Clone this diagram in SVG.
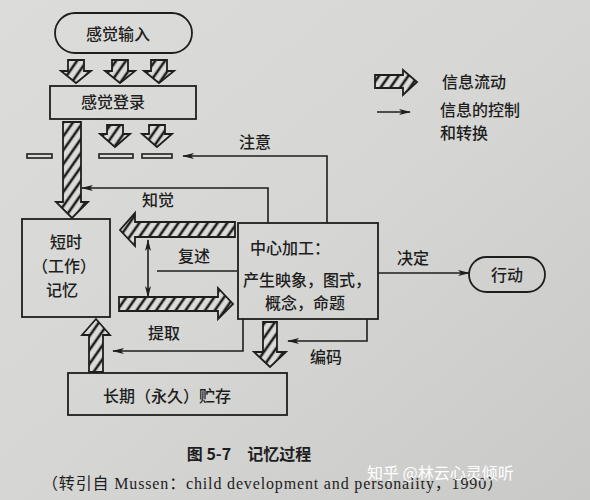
<svg xmlns="http://www.w3.org/2000/svg" width="590" height="500" viewBox="0 0 590 500">
<defs>
<pattern id="hatch" width="8" height="8" patternUnits="userSpaceOnUse" patternTransform="rotate(35)">
<rect width="8" height="8" fill="#dcdcda"/>
<line x1="2" y1="0" x2="2" y2="8" stroke="#1e1e1e" stroke-width="2.6"/>
</pattern>
<marker id="ah" viewBox="0 0 12 6" refX="11" refY="3" markerWidth="12" markerHeight="6" markerUnits="userSpaceOnUse" orient="auto-start-reverse">
<path d="M0 0 L12 3 L0 6 L3 3 Z" fill="#1e1e1e"/>
</marker>
<linearGradient id="bg" x1="0" y1="0" x2="1" y2="1">
<stop offset="0" stop-color="#dcdcda"/>
<stop offset="0.5" stop-color="#d6d6d4"/>
<stop offset="1" stop-color="#c9c9c7"/>
</linearGradient>
</defs>
<style>
.box{fill:none;stroke:#1e1e1e;stroke-width:1.8}
.ha{fill:url(#hatch);stroke:#1e1e1e;stroke-width:1.8;stroke-linejoin:miter}
.ln{fill:none;stroke:#1e1e1e;stroke-width:1.6}
.t{font-family:"Noto Sans CJK SC","Noto Sans",sans-serif;font-size:16px;font-weight:500;fill:#1e1e1e}
.dash{fill:#dcdcda;stroke:#1e1e1e;stroke-width:1.6}
</style>
<rect width="590" height="500" fill="url(#bg)"/>

<g id="sensory-input">
<rect class="box" x="55" y="13" width="137" height="40" rx="20"/>
<text class="t" x="118" y="40" text-anchor="middle">感觉输入</text>
</g>
<g id="sensory-register">
<rect class="box" x="50" y="86" width="146" height="33"/>
<text class="t" x="113" y="108" text-anchor="middle">感觉登录</text>
</g>
<g id="stm">
<rect class="box" x="22" y="219" width="88" height="98"/>
<text class="t" x="66" y="248" text-anchor="middle">短时</text>
<text class="t" x="64" y="272" text-anchor="middle">（工作）</text>
<text class="t" x="62" y="296" text-anchor="middle">记忆</text>
</g>
<g id="central">
<rect class="box" x="238" y="223" width="140" height="96"/>
<text class="t" x="250" y="254" font-size="15">中心加工：</text>
<text class="t" x="307" y="286" text-anchor="middle" font-size="15">产生映象，图式，</text>
<text class="t" x="305" y="309" text-anchor="middle" font-size="15">概念，命题</text>
</g>
<g id="ltm">
<rect class="box" x="68" y="373" width="219" height="42"/>
<text class="t" x="167" y="402" text-anchor="middle">长期（永久）贮存</text>
</g>
<g id="action">
<rect class="box" x="469" y="257" width="76" height="35" rx="17.5"/>
<text class="t" x="507" y="281" text-anchor="middle">行动</text>
</g>

<g id="dashes">
<rect class="dash" x="27" y="154" width="25" height="4"/>
<rect class="dash" x="99" y="154" width="34" height="4"/>
<rect class="dash" x="142" y="154" width="30" height="4"/>
</g>

<g id="connectors">
<path class="ha" d="M68 60 H84 V71 H91 L76 83 L61 71 H68 Z"/>
<path class="ha" d="M112 60 H128 V71 H135 L120 83 L105 71 H112 Z"/>
<path class="ha" d="M151 60 H167 V71 H174 L159 83 L144 71 H151 Z"/>
<path class="ha" d="M107 125 H123 V134 H130 L115 147 L100 134 H107 Z"/>
<path class="ha" d="M149 125 H165 V134 H172 L157 147 L142 134 H149 Z"/>
<path class="ha" d="M63 122 H81 V202 H88 L72 218 L56 202 H63 Z"/>
<path class="ha" d="M89 372 H103 V335 H110 L96 319 L82 335 H89 Z"/>
<path class="ha" d="M263 322 H277 V352 H286 L270 367 L254 352 H263 Z"/>
<path class="ha" d="M235 222 V237 H135 V246 L120 230 L135 213 V222 Z"/>
<path class="ha" d="M119 297 V311 H218 V319 L233 304 L218 288 V297 Z"/>
<path class="ln" d="M327 223 V156 H183" marker-end="url(#ah)"/>
<path class="ln" d="M268 223 V188 H82" marker-end="url(#ah)"/>
<path class="ln" d="M157 271 H237"/>
<path class="ln" d="M148 240 V297" marker-start="url(#ah)" marker-end="url(#ah)"/>
<path class="ln" d="M243 319 V351 H113" marker-end="url(#ah)"/>
<path class="ln" d="M367 319 V341 H288" marker-end="url(#ah)"/>
<path class="ln" d="M378 273 H469" marker-end="url(#ah)"/>
</g>

<g id="labels">
<text class="t" x="255" y="148" text-anchor="middle">注意</text>
<text class="t" x="158" y="206" text-anchor="middle">知觉</text>
<text class="t" x="194" y="262" text-anchor="middle">复述</text>
<text class="t" x="164" y="339" text-anchor="middle">提取</text>
<text class="t" x="326" y="363" text-anchor="middle">编码</text>
<text class="t" x="413" y="264" text-anchor="middle">决定</text>
</g>

<g id="legend">
<path class="ha" d="M375 75 V88 H403 V95 L417 82 L403 70 V75 Z"/>
<text class="t" x="442" y="88">信息流动</text>
<path class="ln" d="M377 112 H410" marker-end="url(#ah)"/>
<text class="t" x="440" y="116" font-size="15">信息的控制</text>
<text class="t" x="440" y="139" font-size="15">和转换</text>
</g>

<g id="caption">
<text x="249" y="460" text-anchor="middle" font-family="'Noto Sans CJK SC',sans-serif" font-weight="bold" font-size="16" fill="#1e1e1e">图 5-7　记忆过程</text>
<text x="42" y="489" textLength="461" lengthAdjust="spacing" font-family="'Liberation Serif','Noto Sans CJK SC',serif" font-size="16" fill="#1e1e1e">（转引自 Mussen：child development and personality，1990）</text>
<text x="367" y="479" font-family="'Noto Sans CJK SC',sans-serif" font-size="16" fill="#ffffff">知乎 @林云心灵倾听</text>
</g>
</svg>
